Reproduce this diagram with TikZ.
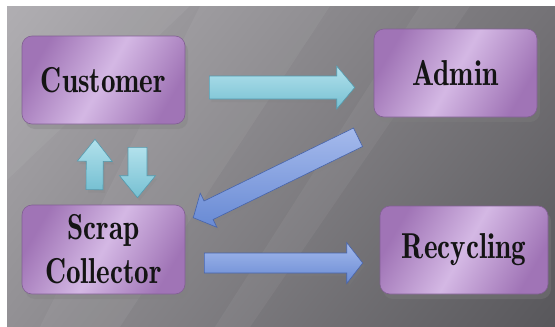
\documentclass[tikz,border=0pt]{standalone}
\usepackage{fontspec}
\newfontfamily\boxfont{lmromandemi10-regular.otf}[FakeStretch=0.81]
\usetikzlibrary{calc,shadows,shadings}
\definecolor{bgTL}{RGB}{172,170,174}
\definecolor{bgTR}{RGB}{116,114,118}
\definecolor{bgBL}{RGB}{146,144,148}
\definecolor{bgBR}{RGB}{88,87,91}
\definecolor{boxLight}{RGB}{212,184,228}
\definecolor{boxDark}{RGB}{160,116,182}
\definecolor{boxEdge}{RGB}{130,96,148}
\definecolor{cyanLight}{RGB}{178,225,236}
\definecolor{cyanDark}{RGB}{118,192,210}
\definecolor{cyanEdge}{RGB}{84,154,174}
\definecolor{blueLight}{RGB}{165,186,236}
\definecolor{blueDark}{RGB}{104,138,212}
\definecolor{blueEdge}{RGB}{72,100,170}
\newcommand\blockarrow[6]{%
  \coordinate (hb) at ($(#3)!#6!(#2)$);
  \path[#1] ($(#2)!#4!90:(#3)$) -- ($(hb)!#4!90:(#3)$) -- ($(hb)!#5!90:(#3)$) -- (#3)
    -- ($(hb)!#5!-90:(#3)$) -- ($(hb)!#4!-90:(#3)$) -- ($(#2)!#4!-90:(#3)$) -- cycle;
}
\tikzset{
  entity/.style={draw=boxEdge, line width=0.6pt, rounded corners=10pt,
    left color=boxDark, right color=boxDark, middle color=boxLight, shading angle=60,
    minimum height=88pt, inner sep=0pt, text=black!92, align=center,
    font=\boxfont\fontsize{36}{44}\selectfont,
    drop shadow={shadow xshift=3pt, shadow yshift=-5pt, opacity=0.35}},
  cyanarrow/.style={draw=cyanEdge, line width=0.6pt, top color=cyanLight, bottom color=cyanDark,
    drop shadow={shadow xshift=2pt, shadow yshift=-3pt, opacity=0.2}},
  bluearrow/.style={draw=blueEdge, line width=0.6pt, top color=blueLight, bottom color=blueDark,
    drop shadow={shadow xshift=2pt, shadow yshift=-3pt, opacity=0.2}},
  streak/.style={fill=white, opacity=0.05}
}
\begin{document}
\begin{tikzpicture}[x=1pt,y=-1pt]
  \useasboundingbox (0,0) rectangle (555,327);
  \fill[white] (0,0) rectangle (555,327);
  \shade[upper left=bgTL, upper right=bgTR, lower left=bgBL, lower right=bgBR]
    (7,6) rectangle (555,327);
  % faint light streaks
  \fill[streak] (200,6) -- (330,6) -- (120,327) -- (40,327) -- cycle;
  \fill[streak] (420,6) -- (470,6) -- (250,327) -- (215,327) -- cycle;
  \fill[streak] (7,6) -- (190,6) -- (7,180) -- cycle;

  \node[entity, minimum width=163pt] (cust) at (103.5,80) {Customer};
  \node[entity, minimum width=163pt] (admin) at (455.5,73) {Admin};
  \node[entity, minimum width=163pt, minimum height=89pt] (scrap) at (103.5,249.5) {Scrap\\Collector};
  \node[entity, minimum width=168pt] (recyc) at (464,250) {Recycling};

  % connector end points, relative to the nodes
  \coordinate (c1s) at ($(cust.east)+(24,7.5)$);
  \coordinate (c1e) at ($(admin.west)+(-19,14.5)$);
  \coordinate (c2s) at ($(scrap.east)+(19,13.5)$);
  \coordinate (c2e) at ($(recyc.west)+(-17,13)$);
  \coordinate (c3s) at ($(admin.south)+(-97.5,20)$);
  \coordinate (c3e) at ($(scrap.north east)+(8,13)$);
  \coordinate (c4s) at ($(scrap.north)+(-9,-15)$);
  \coordinate (c4e) at ($(cust.south)+(-8.5,15)$);
  \coordinate (c5s) at ($(cust.south)+(34,23)$);
  \coordinate (c5e) at ($(scrap.north)+(34,-7)$);

  \blockarrow{cyanarrow}{c1s}{c1e}{11.5pt}{21.5pt}{18pt}
  \blockarrow{bluearrow}{c2s}{c2e}{10pt}{20.5pt}{16pt}
  \blockarrow{bluearrow}{c3s}{c3e}{10.3pt}{19pt}{17pt}
  \blockarrow{cyanarrow}{c4s}{c4e}{8.5pt}{17.5pt}{22pt}
  \blockarrow{cyanarrow}{c5s}{c5e}{9.5pt}{18pt}{22pt}
\end{tikzpicture}
\end{document}
